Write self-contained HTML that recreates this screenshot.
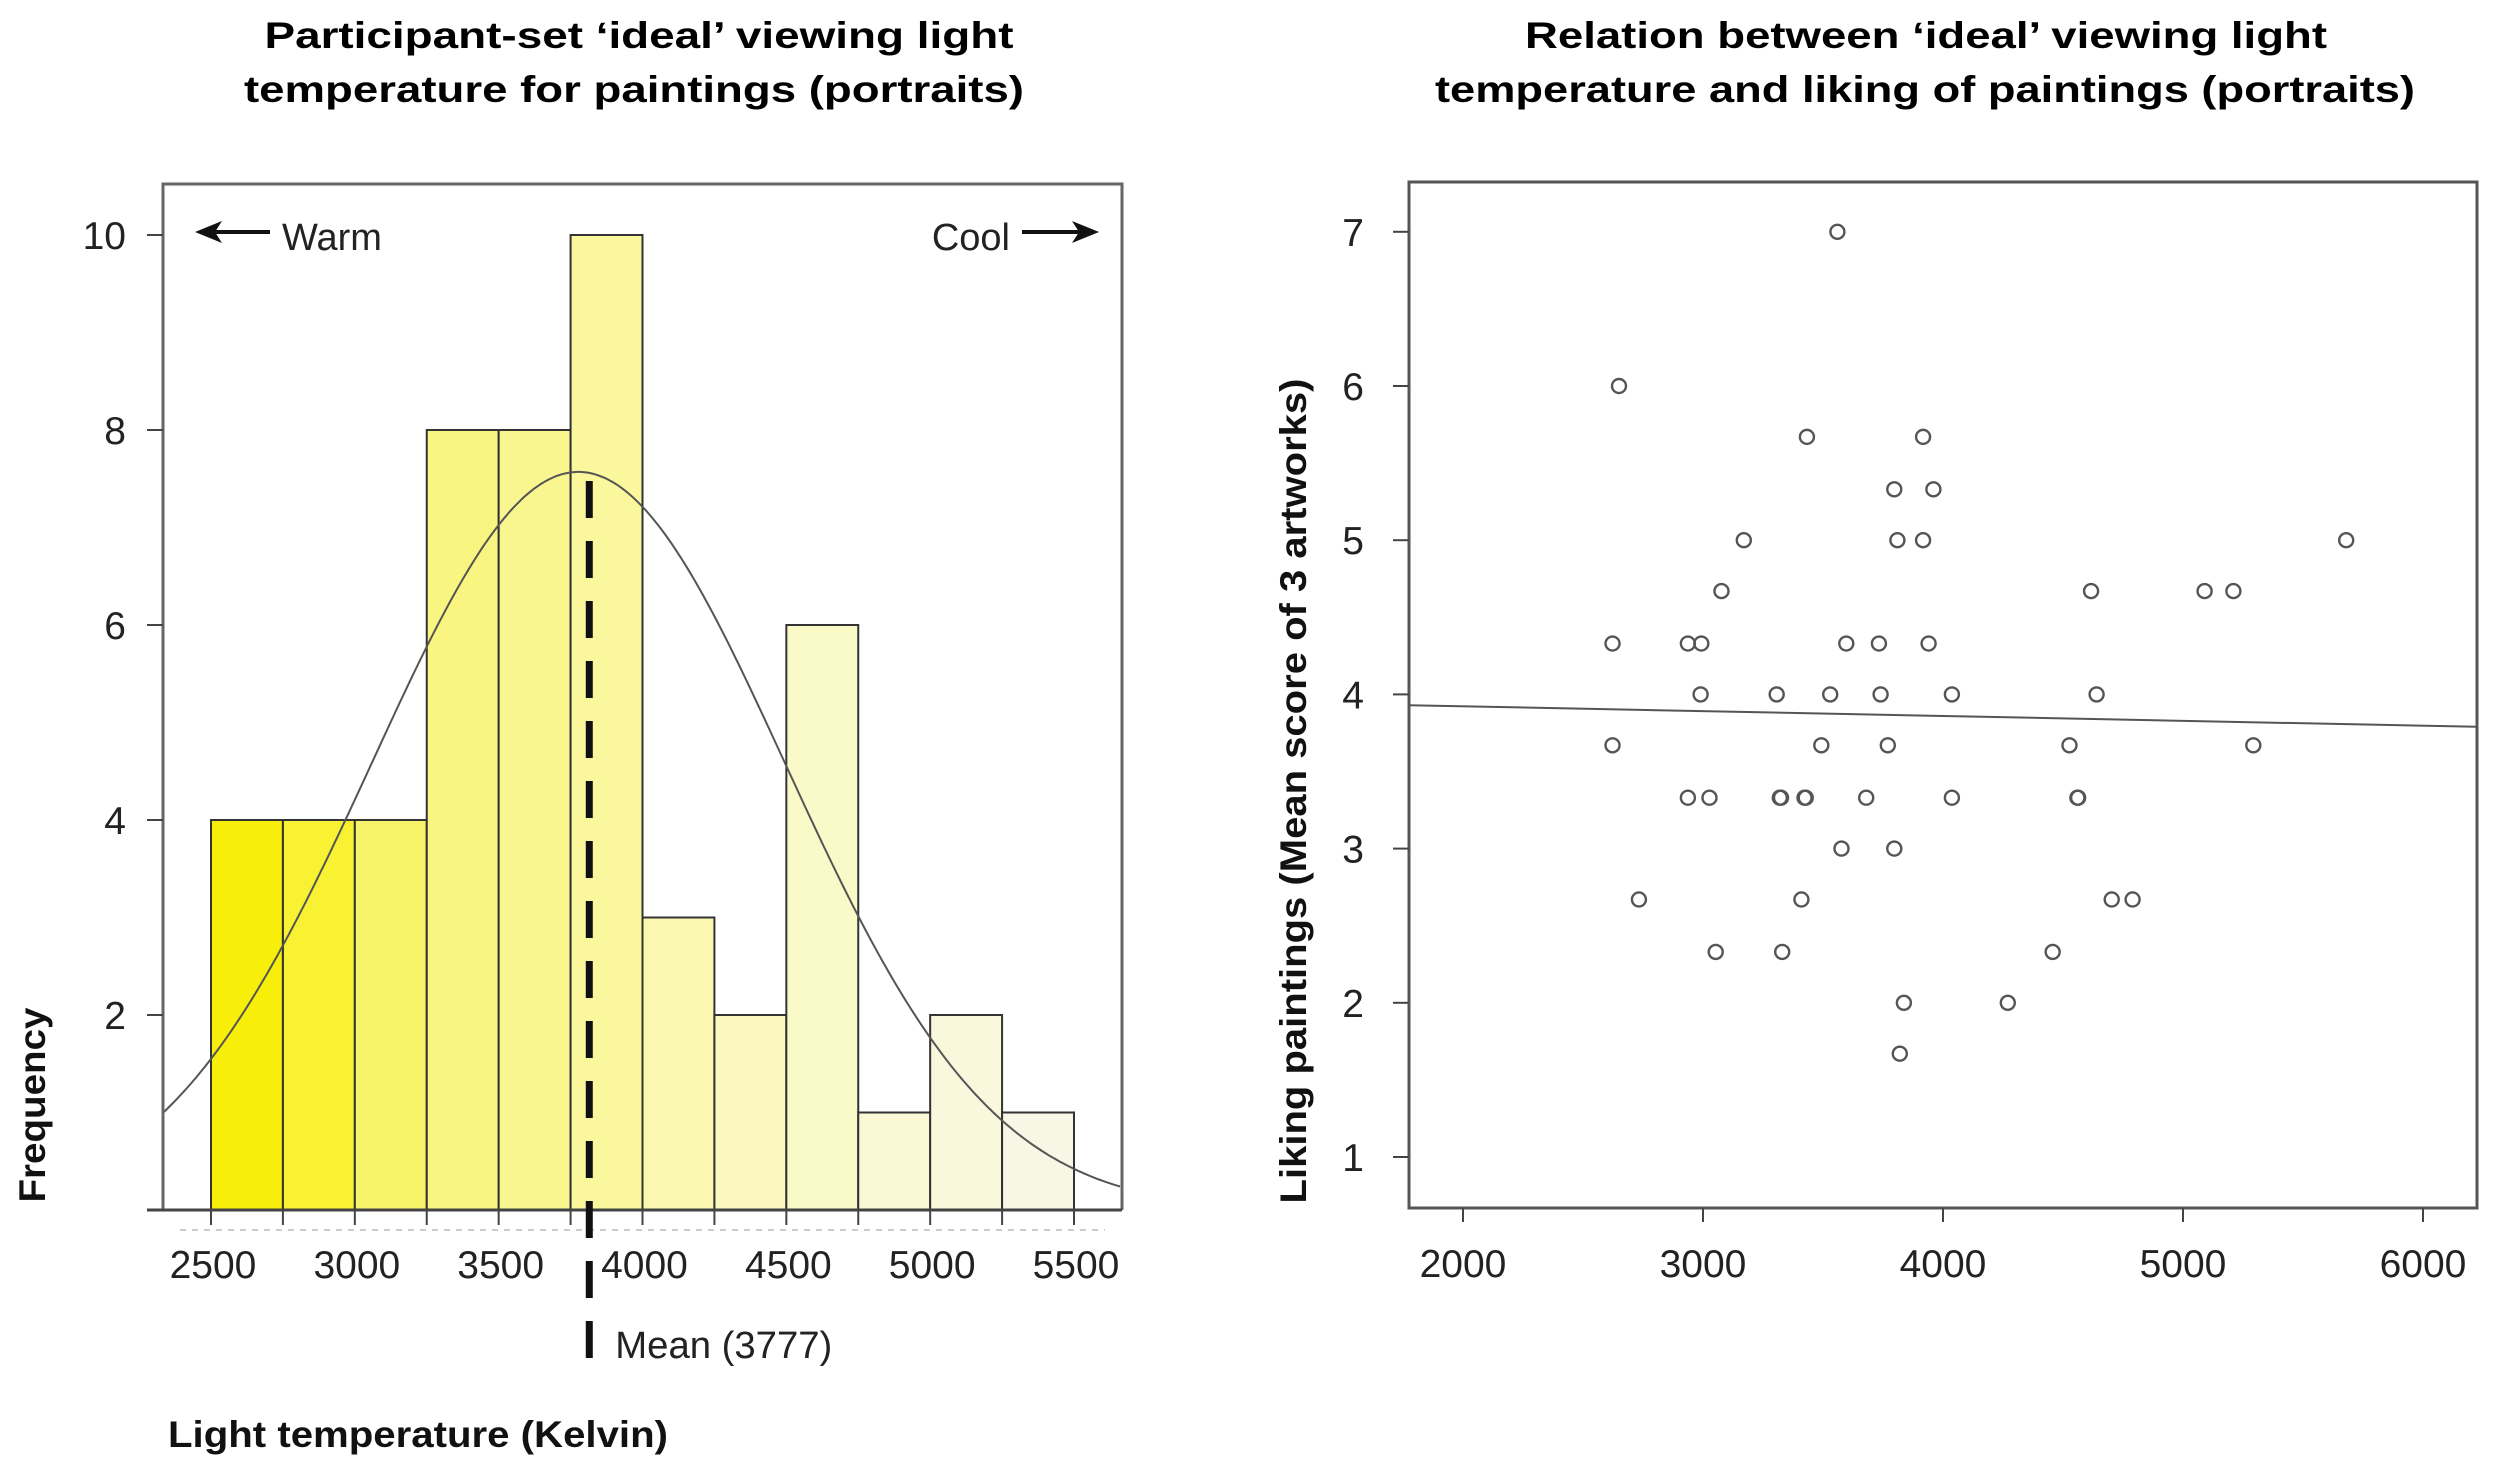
<!DOCTYPE html>
<html><head><meta charset="utf-8"><style>
html,body{margin:0;padding:0;background:#fff;}
svg{display:block;font-family:"Liberation Sans",Arial,sans-serif;}
</style></head><body>
<svg id="chart" width="2500" height="1468" viewBox="0 0 2500 1468" xmlns="http://www.w3.org/2000/svg">
<text x="639" y="48" text-anchor="middle" font-weight="bold" font-size="37" textLength="749" lengthAdjust="spacingAndGlyphs">Participant-set ‘ideal’ viewing light</text>
<text x="634" y="102" text-anchor="middle" font-weight="bold" font-size="37" textLength="780" lengthAdjust="spacingAndGlyphs">temperature for paintings (portraits)</text>
<text x="1926" y="48" text-anchor="middle" font-weight="bold" font-size="37" textLength="802" lengthAdjust="spacingAndGlyphs">Relation between ‘ideal’ viewing light</text>
<text x="1925" y="102" text-anchor="middle" font-weight="bold" font-size="37" textLength="980" lengthAdjust="spacingAndGlyphs">temperature and liking of paintings (portraits)</text>
<g id="hist"></g>
<g id="scat"></g>
</svg>
<script>
// ---- histogram data ----
const binStarts = [2500,2750,3000,3250,3500,3750,4000,4250,4500,4750,5000,5250];
const binCounts = [4,4,4,8,8,10,3,2,6,1,2,1];
const binWidth = 250;
const histXTicks = [2500,3000,3500,4000,4500,5000,5500];
const histYTicks = [2,4,6,8,10];
const curveMean = 3777;
const curveSd = 717;
const curvePeak = 7.57;
const meanLabelValue = 3777;
const meanLinePosition = 3815;
const barColors = ['#f7ee0a','#f8f232','#f8f46a','#f9f580','#f9f68f','#faf79d','#faf8b0','#faf8bd','#faf9c8','#faf8d5','#f9f7dc','#f8f6e4'];

// ---- scatter data ----
const scatterX = [3560,2650,3433,3917,3797,3960,3170,3810,3917,5680,3077,4617,5090,5210,2623,2937,2993,3597,3733,3940,2990,3307,3530,3740,4037,4640,2623,3493,3770,4527,5293,2937,3027,3320,3325,3423,3428,3680,4037,4560,4563,3577,3797,2733,3410,4703,4790,3053,3330,4457,3837,4270,3820];
const scatterY = [7,6,5.67,5.67,5.33,5.33,5,5,5,5,4.67,4.67,4.67,4.67,4.33,4.33,4.33,4.33,4.33,4.33,4,4,4,4,4,4,3.67,3.67,3.67,3.67,3.67,3.33,3.33,3.33,3.33,3.33,3.33,3.33,3.33,3.33,3.33,3,3,2.67,2.67,2.67,2.67,2.33,2.33,2.33,2,2,1.67];
const scatXTicks = [2000,3000,4000,5000,6000];
const scatYTicks = [1,2,3,4,5,6,7];
const fitLineY = [3.93,3.79];

const NS='http://www.w3.org/2000/svg';
function mk(parent,tag,attrs,text){const e=document.createElementNS(NS,tag);for(const k in attrs)e.setAttribute(k,attrs[k]);if(text!==undefined)e.textContent=text;parent.appendChild(e);return e;}

const hx0=163,hx1=1122,hyTop=184,hyBot=1210;
const hX=v=>211+(v-2500)*(1074-211)/3000;
const hY=v=>1210-v*97.5;
const H=document.getElementById('hist');
binStarts.forEach((b,i)=>{
  const r=mk(H,'rect',{x:hX(b),y:hY(binCounts[i]),width:hX(b+binWidth)-hX(b),height:hY(0)-hY(binCounts[i]),fill:barColors[i],stroke:'#333','stroke-width':2});
  
  
});
let d='';
for(let px=hx0;px<=hx1;px+=3){const v=2500+(px-211)*3000/(1074-211);const f=curvePeak*Math.exp(-0.5*Math.pow((v-curveMean)/curveSd,2));d+=(d?'L':'M')+px+','+hY(f).toFixed(1);}
const cv=mk(H,'path',{d:d,fill:'none',stroke:'#555','stroke-width':2});


const bx=mk(H,'path',{d:`M${hx0},${hyBot} V${hyTop} H${hx1} V${hyBot}`,fill:'none',stroke:'#666','stroke-width':3});


const xa=mk(H,'line',{x1:147,x2:hx1,y1:hyBot,y2:hyBot,stroke:'#444','stroke-width':3});


const dl=mk(H,'line',{x1:180,x2:1105,y1:1230,y2:1230,stroke:'#ccc','stroke-width':2,'stroke-dasharray':'6 6'});


binStarts.concat([5500]).forEach(b=>{
  const t=mk(H,'line',{x1:hX(b),x2:hX(b),y1:hyBot,y2:1225,stroke:'#444','stroke-width':2});
  
  
});
histXTicks.forEach(v=>{
  const t=mk(H,'text',{x:hX(v)+2,y:1278,'text-anchor':'middle','font-size':39,fill:'#222'},String(v));
  
  
});
histYTicks.forEach(v=>{
  const l=mk(H,'line',{x1:147,x2:hx0,y1:hY(v),y2:hY(v),stroke:'#444','stroke-width':2});
  
  
  const t=mk(H,'text',{x:126,y:hY(v)+14,'text-anchor':'end','font-size':39,fill:'#222'},String(v));
  
  
});
const ml=mk(H,'line',{x1:hX(meanLinePosition),x2:hX(meanLinePosition),y1:1358,y2:hY(curvePeak),stroke:'#111','stroke-width':7,'stroke-dasharray':'37 23'});


const mt=mk(H,'text',{x:hX(meanLinePosition)+26,y:1358,'font-size':38,fill:'#222',textLength:217,lengthAdjust:'spacingAndGlyphs'},'Mean ('+meanLabelValue+')');


const wa=mk(H,'path',{d:'M270,232 H210',fill:'none',stroke:'#111','stroke-width':4});


const wh=mk(H,'path',{d:'M195,232 L222,221 L215,232 L222,243 Z',fill:'#111'});


const wt=mk(H,'text',{x:282,y:250,'font-size':38,fill:'#222'},'Warm');


const ca=mk(H,'path',{d:'M1022,232 H1085',fill:'none',stroke:'#111','stroke-width':4});


const ch=mk(H,'path',{d:'M1099,232 L1072,221 L1079,232 L1072,243 Z',fill:'#111'});


const ct=mk(H,'text',{x:1010,y:250,'text-anchor':'end','font-size':38,fill:'#222'},'Cool');


const fy=mk(H,'text',{x:0,y:0,transform:'translate(45,1105) rotate(-90)','text-anchor':'middle','font-size':37,'font-weight':'bold',fill:'#111',textLength:195,lengthAdjust:'spacingAndGlyphs'},'Frequency');


const fx=mk(H,'text',{x:168,y:1447,'font-size':37,'font-weight':'bold',fill:'#111',textLength:500,lengthAdjust:'spacingAndGlyphs'},'Light temperature (Kelvin)');



const S=document.getElementById('scat');
const sx0=1409,sx1=2477,syTop=182,syBot=1208;
const sX=v=>1463+(v-2000)*0.24;
const sY=v=>1157-(v-1)*154.2;
const fl=mk(S,'line',{x1:sx0,x2:sx1,y1:sY(fitLineY[0]),y2:sY(fitLineY[1]),stroke:'#555','stroke-width':2});


scatterX.forEach((xv,i)=>{
  const c=mk(S,'circle',{cx:sX(xv),cy:sY(scatterY[i]),r:7,fill:'none',stroke:'#555','stroke-width':2.4});
  
  
});
const sb=mk(S,'rect',{x:sx0,y:syTop,width:sx1-sx0,height:syBot-syTop,fill:'none',stroke:'#555','stroke-width':3});


scatXTicks.forEach(v=>{
  const l=mk(S,'line',{x1:sX(v),x2:sX(v),y1:syBot,y2:1222,stroke:'#444','stroke-width':2});
  
  
  const t=mk(S,'text',{x:sX(v),y:1277,'text-anchor':'middle','font-size':39,fill:'#222'},String(v));
  
  
});
scatYTicks.forEach(v=>{
  const l=mk(S,'line',{x1:1393,x2:sx0,y1:sY(v),y2:sY(v),stroke:'#444','stroke-width':2});
  
  
  const t=mk(S,'text',{x:1364,y:sY(v)+14,'text-anchor':'end','font-size':39,fill:'#222'},String(v));
  
  
});
const sy=mk(S,'text',{x:0,y:0,transform:'translate(1306,791) rotate(-90)','text-anchor':'middle','font-size':37,'font-weight':'bold',fill:'#111',textLength:825,lengthAdjust:'spacingAndGlyphs'},'Liking paintings (Mean score of 3 artworks)');


</script>
</body></html>
